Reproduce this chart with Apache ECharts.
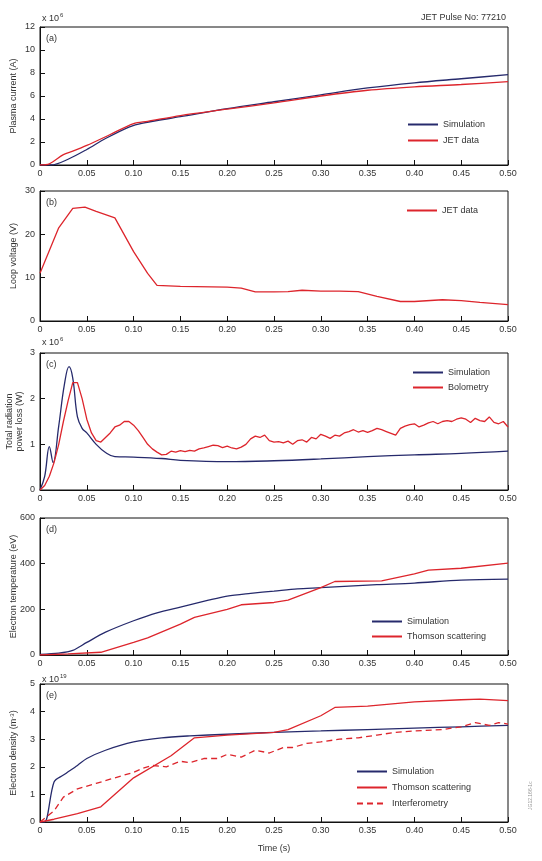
<!DOCTYPE html>
<html>
<head>
    <meta charset="utf-8">
    <title>JET Pulse 77210</title>
    <script src="https://cdn.jsdelivr.net/npm/echarts@6/dist/echarts.min.js"></script>
    <style>
        html, body { margin: 0; padding: 0; background: #fff; }
        #chart { width: 542px; height: 861px; }
    </style>
</head>
<body>
<div id="chart"></div>
<script>
    // (a) plasma current, x 10^6 A
    var tSimA = [0, 0.012, 0.03, 0.05, 0.07, 0.095, 0.11, 0.15, 0.2, 0.25, 0.3, 0.35, 0.4, 0.45, 0.5];
    var simA = [0, 0, 0.5, 1.35, 2.3, 3.3, 3.65, 4.2, 4.9, 5.5, 6.1, 6.7, 7.15, 7.5, 7.85];
    var tJetA = [0, 0.01, 0.025, 0.035, 0.05, 0.075, 0.1, 0.115, 0.15, 0.2, 0.25, 0.3, 0.35, 0.4, 0.45, 0.5];
    var jetA = [0, 0.1, 0.9, 1.2, 1.7, 2.65, 3.6, 3.8, 4.3, 4.85, 5.4, 6.0, 6.5, 6.8, 7.0, 7.25];

    // (b) loop voltage, V
    var tJetB = [0, 0.02, 0.035, 0.048, 0.06, 0.08, 0.1, 0.115, 0.125, 0.15, 0.2, 0.215, 0.23, 0.25, 0.265, 0.28, 0.3, 0.32, 0.34, 0.36, 0.385, 0.4, 0.43, 0.45, 0.47, 0.5];
    var jetB = [11, 21.5, 26, 26.3, 25.3, 23.8, 16, 11, 8.2, 8, 7.8, 7.6, 6.7, 6.7, 6.8, 7.1, 6.9, 6.9, 6.8, 5.7, 4.5, 4.5, 4.9, 4.7, 4.3, 3.8];

    // (c) total radiation power loss, x 10^6 W
    var tSimC = [0, 0.005, 0.01, 0.014, 0.02, 0.026, 0.031, 0.035, 0.04, 0.045, 0.05, 0.06, 0.07, 0.08, 0.1, 0.13, 0.15, 0.2, 0.25, 0.3, 0.35, 0.4, 0.45, 0.5];
    var simC = [0, 0.3, 0.95, 0.6, 1.4, 2.3, 2.7, 2.45, 1.6, 1.35, 1.25, 1.0, 0.82, 0.73, 0.72, 0.69, 0.65, 0.62, 0.64, 0.68, 0.73, 0.77, 0.8, 0.85];
    var boloStep = 0.005;
    var boloC = [0, 0.1, 0.3, 0.6, 1.0, 1.5, 1.95, 2.35, 2.35, 2.0,
        1.55, 1.25, 1.08, 1.05, 1.15, 1.25, 1.38, 1.42, 1.5, 1.5,
        1.42, 1.3, 1.15, 1.0, 0.9, 0.83, 0.77, 0.78, 0.85, 0.83,
        0.86, 0.84, 0.87, 0.85, 0.9, 0.92, 0.95, 0.98, 0.97, 0.93,
        0.96, 0.92, 0.9, 0.94, 1.0, 1.12, 1.18, 1.15, 1.2, 1.08,
        1.05, 1.06, 1.03, 1.07, 1.0, 1.08, 1.1, 1.05, 1.15, 1.12,
        1.22, 1.18, 1.13, 1.2, 1.18, 1.25, 1.28, 1.32, 1.27, 1.3,
        1.26, 1.3, 1.35, 1.32, 1.28, 1.24, 1.2, 1.35, 1.4, 1.43,
        1.45, 1.38, 1.42, 1.47, 1.5, 1.45, 1.5, 1.52, 1.5, 1.55,
        1.58, 1.55, 1.48, 1.57, 1.52, 1.5, 1.6, 1.48, 1.45, 1.5, 1.38];

    // (d) electron temperature, eV
    var tSimD = [0, 0.02, 0.035, 0.05, 0.07, 0.1, 0.125, 0.15, 0.18, 0.2, 0.225, 0.25, 0.275, 0.3, 0.33, 0.36, 0.4, 0.45, 0.5];
    var simD = [3, 8, 20, 55, 100, 150, 185, 210, 240, 258, 270, 280, 290, 295, 302, 308, 315, 328, 332];
    var tThD = [0, 0.03, 0.065, 0.1, 0.115, 0.15, 0.165, 0.2, 0.215, 0.25, 0.265, 0.3, 0.315, 0.365, 0.4, 0.415, 0.45, 0.5];
    var thD = [0, 5, 12, 55, 75, 135, 165, 200, 220, 230, 240, 295, 322, 325, 355, 372, 380, 402];

    // (e) electron density, x 10^19 m^-3
    var tSimE = [0, 0.005, 0.015, 0.025, 0.04, 0.05, 0.07, 0.1, 0.13, 0.16, 0.2, 0.25, 0.3, 0.35, 0.4, 0.45, 0.5];
    var simE = [0, 0, 1.45, 1.7, 2.05, 2.3, 2.6, 2.9, 3.05, 3.12, 3.18, 3.25, 3.3, 3.35, 3.4, 3.45, 3.5];
    var tThE = [0, 0.015, 0.04, 0.065, 0.1, 0.14, 0.165, 0.2, 0.25, 0.265, 0.3, 0.315, 0.35, 0.4, 0.45, 0.47, 0.5];
    var thE = [0, 0.1, 0.3, 0.55, 1.6, 2.4, 3.05, 3.15, 3.25, 3.35, 3.85, 4.15, 4.2, 4.35, 4.43, 4.45, 4.4];
    var tIntE = [0, 0.015, 0.025, 0.04, 0.06, 0.075, 0.1, 0.11, 0.12, 0.135, 0.15, 0.16, 0.175, 0.19, 0.2, 0.215, 0.23, 0.245, 0.26, 0.27, 0.285, 0.3, 0.32, 0.34, 0.36, 0.38, 0.4, 0.43, 0.45, 0.465, 0.48, 0.49, 0.5];
    var intE = [0, 0.4, 0.9, 1.2, 1.4, 1.55, 1.8, 1.95, 2.05, 2.0, 2.2, 2.15, 2.3, 2.3, 2.45, 2.35, 2.6, 2.5, 2.7, 2.7, 2.85, 2.9, 3.0, 3.05, 3.15, 3.25, 3.3, 3.35, 3.45, 3.6, 3.5, 3.6, 3.55];

    var navy = '#262a6c';
    var red = '#dd252c';

    function pairs(t, v) {
        var out = [];
        for (var i = 0; i < v.length; i++) out.push([t[i], v[i]]);
        return out;
    }
    var tBolo = [];
    for (var i = 0; i < boloC.length; i++) tBolo.push(+(i * boloStep).toFixed(3));

    var panels = [
        {top: 27, height: 138, max: 12, interval: 2, name: 'Plasma current (A)', label: '(a)'},
        {top: 191, height: 130, max: 30, interval: 10, name: 'Loop voltage (V)', label: '(b)'},
        {top: 353, height: 137, max: 3, interval: 1, name: 'Total radiation\npower loss (W)', label: '(c)'},
        {top: 518, height: 137, max: 600, interval: 200, name: 'Electron temperature (eV)', label: '(d)'},
        {top: 684, height: 138, max: 5, interval: 1, name: '{n|Electron density (m}{s|-3}{n|)}', label: '(e)'}
    ];

    var grid = [], xAxis = [], yAxis = [], graphic = [];
    panels.forEach(function (p, k) {
        grid.push({left: 40, right: 34, top: p.top, height: p.height, show: true,
            outerBoundsMode: 'none', containLabel: false,
            borderColor: '#111', borderWidth: 1, backgroundColor: 'transparent'});
        xAxis.push({
            type: 'value', gridIndex: k, min: 0, max: 0.5, interval: 0.05,
            name: k === 4 ? 'Time (s)' : '', nameLocation: 'middle', nameGap: 22,
            nameMoveOverlap: false,
            nameTextStyle: {fontSize: 9, color: '#333', fontFamily: 'Liberation Sans'},
            axisLine: {show: true, lineStyle: {color: '#111'}},
            axisTick: {inside: true, length: 5, lineStyle: {color: '#111'}},
            splitLine: {show: false},
            axisLabel: {fontSize: 9, color: '#333', margin: 4, fontFamily: 'Liberation Sans',
                formatter: function (v) { return v === 0 ? '0' : v.toFixed(2); }}
        });
        yAxis.push({
            type: 'value', gridIndex: k, min: 0, max: p.max, interval: p.interval,
            name: p.name, nameLocation: 'middle', nameGap: k === 2 ? 15 : 21,
            nameMoveOverlap: false,
            nameTextStyle: {fontSize: 9, color: '#333', fontFamily: 'Liberation Sans', lineHeight: 10,
                rich: {n: {fontSize: 9, color: '#333'}, s: {fontSize: 6, color: '#333', verticalAlign: 'top', padding: [0, 0, 6, 0]}}},
            axisLine: {show: true, lineStyle: {color: '#111'}},
            axisTick: {inside: true, length: 5, lineStyle: {color: '#111'}},
            splitLine: {show: false},
            axisLabel: {fontSize: 9, color: '#333', margin: 5, fontFamily: 'Liberation Sans'}
        });
        graphic.push({type: 'text', left: 46, top: p.top + 7,
            style: {text: p.label, fontSize: 9, fill: '#333', fontFamily: 'Liberation Sans'}});
    });

    function mult(top, exp) {
        return {type: 'text', left: 42, top: top,
            style: {text: '{n|x 10}{s|' + exp + '}', fontFamily: 'Liberation Sans',
                rich: {n: {fontSize: 9, fill: '#333'}, s: {fontSize: 6, fill: '#333', verticalAlign: 'top', padding: [0, 0, 7, 1]}}}};
    }
    graphic.push(mult(12, '6'));
    graphic.push(mult(336, '6'));
    graphic.push(mult(673, '19'));
    graphic.push({type: 'text', right: 36, top: 13,
        style: {text: 'JET Pulse No: 77210', fontSize: 9, fill: '#333', fontFamily: 'Liberation Sans'}});
    graphic.push({type: 'text', x: 528, y: 810, rotation: Math.PI / 2,
        style: {text: 'JG12.166-1c', fontSize: 5, fill: '#999', fontFamily: 'Liberation Sans'}});

    function line(name, k, data, color, opts) {
        var s = {name: name, type: 'line', xAxisIndex: k, yAxisIndex: k, data: data,
            symbol: 'none', showSymbol: false, lineStyle: {color: color, width: 1.3}, itemStyle: {color: color}};
        for (var key in opts) s[key] = opts[key];
        return s;
    }

    var series = [
        line('Simulation', 0, pairs(tSimA, simA), navy, {smooth: 0.3}),
        line('JET data', 0, pairs(tJetA, jetA), red, {smooth: 0.3}),
        line('JET data', 1, pairs(tJetB, jetB), red, {}),
        line('Simulation', 2, pairs(tSimC, simC), navy, {smooth: 0.4}),
        line('Bolometry', 2, pairs(tBolo, boloC), red, {}),
        line('Simulation', 3, pairs(tSimD, simD), navy, {smooth: 0.3}),
        line('Thomson scattering', 3, pairs(tThD, thD), red, {}),
        line('Simulation', 4, pairs(tSimE, simE), navy, {smooth: 0.3}),
        line('Thomson scattering', 4, pairs(tThE, thE), red, {}),
        line('Interferometry', 4, pairs(tIntE, intE), red, {lineStyle: {color: red, width: 1.3, type: [6, 4]}})
    ];

    function legend(left, top, names, gap) {
        return {left: left, top: top, orient: 'vertical', data: names, itemWidth: 30, itemHeight: 10,
            itemGap: gap, selectedMode: false,
            itemStyle: {opacity: 0},
            textStyle: {fontSize: 9, color: '#333', fontFamily: 'Liberation Sans'}};
    }

    var chart = echarts.init(document.getElementById('chart'));
    chart.setOption({
        animation: false,
        backgroundColor: '#fff',
        grid: grid,
        xAxis: xAxis,
        yAxis: yAxis,
        legend: [
            legend(402, 115, ['Simulation', 'JET data'], 7),
            legend(401, 201, ['JET data'], 7),
            legend(407, 363, ['Simulation', 'Bolometry'], 6),
            legend(366, 612, ['Simulation', 'Thomson scattering'], 6),
            legend(351, 762, ['Simulation', 'Thomson scattering', 'Interferometry'], 7)
        ],
        graphic: graphic,
        series: series
    });
    window.onresize = function () { chart.resize(); };
</script>
</body>
</html>
